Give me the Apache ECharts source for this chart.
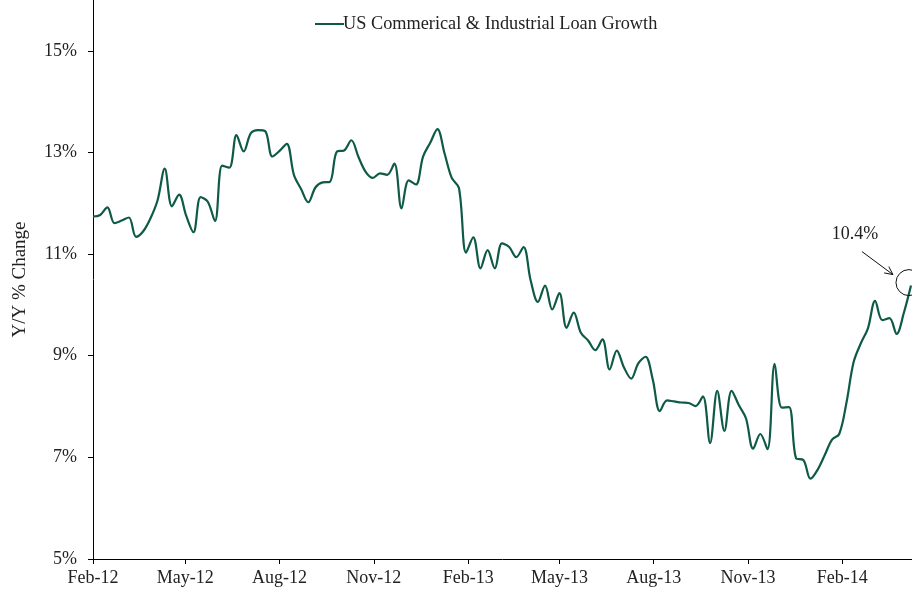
<!DOCTYPE html>
<html>
<head>
<meta charset="utf-8">
<script src="https://cdn.jsdelivr.net/npm/echarts@6/dist/echarts.min.js"></script>
<style>
html,body{margin:0;padding:0;background:#fff;}
#chart{width:912px;height:590px;}
</style>
</head>
<body>
<div id="chart"></div>
<script>
// weekly observations, first week and step
const startDate = [2012, 1, 1];   // 1 Feb 2012 (Wednesday)
const stepDays = 7;
const seriesName = 'US Commerical & Industrial Loan Growth';
const loanGrowth = [
  11.74, 11.77, 11.92, 11.61, 11.66, 11.72, 11.34, 11.45, 11.70, 12.06,
  12.68, 11.94, 12.17, 11.75, 11.43, 12.12, 12.03, 11.65, 12.74, 12.70,
  13.34, 13.02, 13.38, 13.44, 13.42, 12.92, 13.03, 13.17, 12.56, 12.28,
  12.02, 12.31, 12.41, 12.42, 13.02, 13.04, 13.24, 12.91, 12.62, 12.50,
  12.59, 12.56, 12.78, 11.90, 12.45, 12.37, 12.92, 13.19, 13.46, 12.98,
  12.50, 12.30, 11.03, 11.33, 10.72, 11.08, 10.72, 11.21, 11.14, 10.94,
  11.14, 10.48, 10.06, 10.38, 9.91, 10.23, 9.55, 9.85, 9.45, 9.30,
  9.11, 9.32, 8.73, 9.10, 8.77, 8.55, 8.85, 8.98, 8.54, 7.91,
  8.12, 8.10, 8.08, 8.07, 8.01, 8.20, 7.28, 8.31, 7.52, 8.31,
  8.03, 7.77, 7.17, 7.46, 7.16, 8.84, 7.98, 7.99, 6.98, 6.95,
  6.58, 6.76, 7.05, 7.35, 7.46, 8.07, 8.87, 9.24, 9.54, 10.08,
  9.70, 9.74, 9.43, 9.84, 10.38
];
const tickDates = ['2012-02-01','2012-05-01','2012-08-01','2012-11-01','2013-02-01','2013-05-01','2013-08-01','2013-11-01','2014-02-01'];
const tickLabels = ['Feb-12','May-12','Aug-12','Nov-12','Feb-13','May-13','Aug-13','Nov-13','Feb-14'];
const axisStart = '2012-02-01';
const axisEnd = '2014-04-10';
const yMin = 5, yMax = 16, yStep = 2;
const yTitle = 'Y/Y % Change';
const calloutText = '10.4%';

function utc(s){ const p = s.split('-').map(Number); return Date.UTC(p[0], p[1]-1, p[2]); }
const t0 = Date.UTC(startDate[0], startDate[1], startDate[2]);
const seriesData = loanGrowth.map((v, i) => [t0 + i * stepDays * 86400000, v]);
const tickTimes = tickDates.map(utc);

const FONT = '"Liberation Serif", "DejaVu Serif", serif';
const GREEN = '#0e5a46';

const chart = echarts.init(document.getElementById('chart'), null, {renderer: 'canvas'});
const option = {
  backgroundColor: '#ffffff',
  animation: false,
  textStyle: {fontFamily: FONT},
  grid: {left: 93, right: 0, top: -1, bottom: 31, containLabel: false},
  legend: {
    show: true,
    left: 310, top: 10,
    icon: 'rect', itemWidth: 29, itemHeight: 2,
    itemStyle: {color: GREEN},
    textStyle: {fontFamily: FONT, fontSize: 18.3, color: '#222', padding: [0, 0, 0, -6]},
    data: [seriesName]
  },
  xAxis: {
    type: 'value',
    min: utc(axisStart), max: utc(axisEnd),
    splitLine: {show: false},
    axisLine: {show: true, lineStyle: {color: '#000', width: 1}},
    axisTick: {show: true, length: 5, lineStyle: {color: '#000'}, customValues: tickTimes},
    axisLabel: {
      customValues: tickTimes,
      margin: 10,
      fontFamily: FONT, fontSize: 18, color: '#222',
      formatter: function (val) {
        let best = 0, bd = Infinity;
        tickTimes.forEach((t, i) => { const d = Math.abs(t - val); if (d < bd) { bd = d; best = i; } });
        return tickLabels[best];
      }
    }
  },
  yAxis: {
    type: 'value',
    min: yMin, max: yMax, interval: yStep,
    name: yTitle, nameLocation: 'middle', nameGap: 63, nameRotate: 90,
    nameTextStyle: {fontFamily: FONT, fontSize: 19, color: '#222'},
    splitLine: {show: false},
    axisLine: {show: true, onZero: false, lineStyle: {color: '#000', width: 1}},
    axisTick: {show: true, length: 5, lineStyle: {color: '#000'}},
    axisLabel: {
      showMaxLabel: false,
      margin: 16,
      fontFamily: FONT, fontSize: 18, color: '#222',
      formatter: v => v + '%'
    }
  },
  series: [{
    name: seriesName,
    type: 'line',
    data: seriesData,
    smooth: 0.35,
    showSymbol: false,
    symbol: 'none',
    lineStyle: {color: GREEN, width: 2.2},
    itemStyle: {color: GREEN}
  }]
};
chart.setOption(option);

// callout anchored on the last observation via the chart's own scale
const last = seriesData[seriesData.length - 1];
const p = chart.convertToPixel({gridIndex: 0}, last);
const cx = p[0] - 2, cy = p[1] - 3;
const ax0 = [p[0] - 49, p[1] - 34], ax1 = [p[0] - 18, p[1] - 11];
const ang = Math.atan2(ax1[1] - ax0[1], ax1[0] - ax0[0]);
const hl = 9, ha = 0.45;
const h1 = [ax1[0] - hl * Math.cos(ang - ha), ax1[1] - hl * Math.sin(ang - ha)];
const h2 = [ax1[0] - hl * Math.cos(ang + ha), ax1[1] - hl * Math.sin(ang + ha)];
chart.setOption({
  graphic: [
    {type: 'circle', shape: {cx: cx, cy: cy, r: 13}, style: {fill: 'none', stroke: '#111', lineWidth: 1}, z: 100},
    {type: 'line', shape: {x1: ax0[0], y1: ax0[1], x2: ax1[0], y2: ax1[1]}, style: {stroke: '#111', lineWidth: 1}, z: 100},
    {type: 'polyline', shape: {points: [h1, ax1, h2]}, style: {fill: 'none', stroke: '#111', lineWidth: 1}, z: 100},
    {type: 'text', x: p[0] - 56, y: p[1] - 51, style: {text: calloutText, font: '18px ' + FONT, fill: '#222', align: 'center', verticalAlign: 'middle'}, z: 100}
  ]
});
</script>
</body>
</html>
